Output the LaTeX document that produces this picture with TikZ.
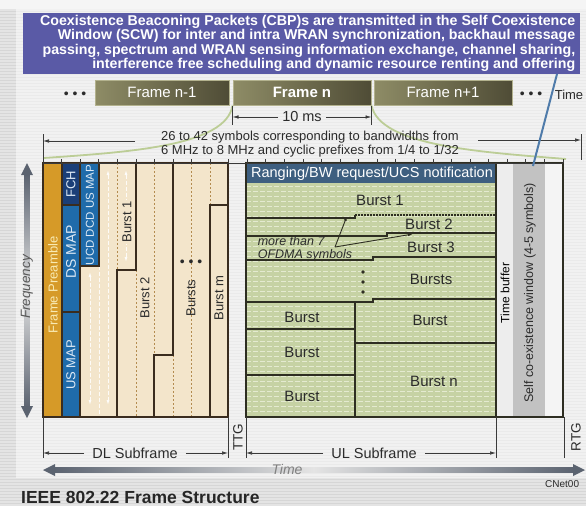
\documentclass[tikz,border=0pt]{standalone}
\usepackage{fontspec}
\setmainfont{Liberation Sans}
\usetikzlibrary{arrows.meta}
\definecolor{bgA}{HTML}{D6D6D6}
\definecolor{panel}{HTML}{EAEAEA}
\definecolor{cbpblue}{HTML}{5A5AA6}
\definecolor{oliveL}{HTML}{8E8C66}
\definecolor{oliveD}{HTML}{4F4C36}
\definecolor{oliveB}{HTML}{B3B28E}
\definecolor{preamble}{HTML}{D69A28}
\definecolor{pretext}{HTML}{F8EAB4}
\definecolor{fchnavy}{HTML}{1B3F78}
\definecolor{mapblue}{HTML}{1F6BAA}
\definecolor{bluetxt}{HTML}{DDE9F5}
\definecolor{beige}{HTML}{F3E5CB}
\definecolor{brownline}{HTML}{3A2C1E}
\definecolor{dashbrown}{HTML}{B38B4F}
\definecolor{dltxt}{HTML}{2B2B2B}
\definecolor{ulgreen}{HTML}{C6D2A4}
\definecolor{ulpale}{HTML}{E4EAD0}
\definecolor{ulhead}{HTML}{3E5F80}
\definecolor{ullinec}{HTML}{2E2E22}
\definecolor{tbuf}{HTML}{EDEDED}
\definecolor{scwgray}{HTML}{C2C2C2}
\definecolor{rwhite}{HTML}{F4F4F4}
\definecolor{arrowdark}{HTML}{5B6370}
\definecolor{arrowlight}{HTML}{E4E4E4}
\definecolor{curvegreen}{HTML}{BCCD96}
\definecolor{callout}{HTML}{4F7BAA}
\definecolor{dimgray}{HTML}{3A3A3A}
\tikzset{
  lbl/.style={inner sep=0pt, text=dltxt, font=\fontsize{14}{16}\selectfont},
  midlbl/.style={inner sep=0pt, text=dltxt, font=\fontsize{13}{14.5}\selectfont},
  dltext/.style={rotate=90, inner sep=0pt, text=dltxt, font=\fontsize{13}{14}\selectfont},
  bluetext/.style={rotate=90, inner sep=0pt, text=bluetxt, font=\fontsize{13}{14}\selectfont},
  ultext/.style={inner sep=0pt, text=dltxt, font=\fontsize{15}{17}\selectfont},
  framebox/.style={minimum height=25pt, inner sep=0pt, left color=oliveL, right color=oliveD, draw=oliveB, line width=1pt, text=white, font=\fontsize{15}{17}\selectfont},
  dimline/.style={draw=dimgray, line width=0.7pt},
  dimarrow/.style={dimline, -{Latex[length=6pt,width=3.5pt]}},
  bline/.style={draw=brownline, line width=1.2pt},
  dline/.style={draw=dashbrown, line width=0.7pt, dash pattern=on 2pt off 2pt},
  wline/.style={draw=white, opacity=0.85, line width=0.8pt, dash pattern=on 4pt off 2pt},
  warrow/.style={wline, {Latex[length=5pt,width=3pt]}-{Latex[length=5pt,width=3pt]}},
  uline/.style={draw=ullinec, line width=1.4pt},
}
\begin{document}
\begin{tikzpicture}[x=1pt,y=-1pt]
\useasboundingbox (0,0) rectangle (586,506);
% background
\fill[bgA] (0,0) rectangle (586,506);
\fill[white!96!black] (0,0) rectangle (586,9);
\fill[panel] (16,9) rectangle (586,478);
\foreach \yy in {10,13,...,505} \draw[white, opacity=0.35, line width=1.2pt] (0,\yy) -- (586,\yy);

% CBP box
\node[fill=cbpblue, minimum width=557pt, minimum height=61pt, inner sep=0pt, anchor=north west] (cbpbox) at (23,13) {};
\node[anchor=east, align=right, inner sep=0pt, text=white, font=\bfseries\fontsize{14.2}{14.4}\selectfont] (cbptext) at ([xshift=-5pt,yshift=0.5pt]cbpbox.east)
 {Coexistence Beaconing Packets (CBP)s are transmitted in the Self Coexistence\\
  Window (SCW) for inter and intra WRAN synchronization, backhaul message\\
  passing, spectrum and WRAN sensing information exchange, channel sharing,\\
  interference free scheduling and dynamic resource renting and offering};

% frames
\node[framebox, minimum width=134pt] (fnm1) at (162,92.5) {Frame n-1};
\node[framebox, minimum width=138pt, font=\bfseries\fontsize{15}{17}\selectfont] (fn) at (302,92.5) {Frame n};
\node[framebox, minimum width=138pt] (fnp1) at (443,92.5) {Frame n+1};
\node[lbl] (ldots) at (75,95) {\textbullet\ \textbullet\ \textbullet};
\node[lbl] (rdots) at (531,95) {\textbullet\ \textbullet\ \textbullet};
\node[lbl, font=\fontsize{13}{15}\selectfont] (toptime) at (569,95) {Time};

% green curves from Frame n
\coordinate (cvL) at (44,158);
\coordinate (cvR) at (566,159);
\draw[curvegreen, line width=1.8pt] (fn.south west) .. controls (226,146) and (130,152) .. (cvL);
\draw[curvegreen, line width=1.8pt] (fn.south east) .. controls (380,146) and (480,152) .. (cvR);

% 10 ms
\node[lbl, font=\fontsize{14.5}{16}\selectfont] (tenms) at (302,117) {10 ms};
\draw[dimline] (fn.south west) -- ++(0,19) coordinate (tmsL);
\draw[dimline] (fn.south east) -- ++(0,19) coordinate (tmsR);
\draw[dimarrow] ([xshift=-4pt]tenms.west) -- (fn.south west |- tenms.west);
\draw[dimarrow] ([xshift=4pt]tenms.east) -- (fn.south east |- tenms.east);

% symbols text
\node[midlbl, align=center] (sym) at (310,144) {26 to 42 symbols corresponding to bandwidths from\\6 MHz to 8 MHz and cyclic prefixes from 1/4 to 1/32};
\coordinate (symLs) at (135,141);
\coordinate (symLe) at (43,141);
\coordinate (symRs) at (478,140);
\coordinate (symRe) at (581,140);
\draw[dimarrow] (symLs) -- (symLe);
\draw[dimarrow] (symRs) -- (symRe);
\draw[dimline] (43,134) -- (43,163);
\draw[dimline] (581,134) -- (581,160);

% ===== DL subframe =====
\fill[beige] (43,163) rectangle (228,417);
\fill[preamble] (43,163) rectangle (62,417);
\fill[fchnavy] (62,163) rectangle (80,205);
\fill[mapblue] (62,205) rectangle (80,417);
\fill[mapblue] (80,163) rectangle (99,266);
% dashed helper lines
\draw[dline] (117,163) -- (117,270);
\draw[dline] (136,270) -- (136,417);
\draw[dline] (154,163) -- (154,355);
\draw[dline] (173,355) -- (173,417);
\draw[dline] (191,163) -- (191,417);
\draw[dline] (210,163) -- (210,205);
\draw[wline] (99,266) -- (99,417);
\draw[warrow] (108,170) -- (108,405);
\draw[warrow] (126,170) -- (126,262);
\draw[warrow] (90,272) -- (90,405);
% solid boundaries
\draw[bline] (62,163) -- (62,417);
\draw[bline] (80,163) -- (80,417);
\draw[bline] (99,163) -- (99,266) -- (80,266);
\draw[bline] (62,205) -- (80,205);
\draw[bline] (62,312) -- (80,312);
\draw[bline] (136,163) -- (136,270) -- (117,270) -- (117,417);
\draw[bline] (173,163) -- (173,355) -- (154,355) -- (154,417);
\draw[bline] (228,205) -- (210,205) -- (210,417);
\draw[bline] (43,163) rectangle (228,417);
% DL texts
\node[dltext, text=pretext] (pre) at (53,285) {Frame Preamble};
\node[bluetext] (fch) at (71,184) {FCH};
\node[bluetext, font=\fontsize{14}{15}\selectfont] (dsmap) at (71,252) {DS MAP};
\node[bluetext] (usmap) at (71,365) {US MAP};
\node[bluetext, font=\fontsize{11.5}{13}\selectfont] (ucd) at (90,215) {UCD DCD US MAP};
\node[dltext, fill=beige, inner sep=1pt] (b1) at (127,222) {Burst 1};
\node[dltext] (b2) at (145,298) {Burst 2};
\node[dltext] (bs) at (191,298) {Bursts};
\node[dltext] (bm) at (219,298) {Burst m};
\node[lbl] (dldots) at (191,263) {\textbullet\ \textbullet\ \textbullet};

% ===== UL subframe =====
\fill[ulgreen] (246,183) rectangle (496,417);
\begin{scope}
\clip (246,183) rectangle (496,417);
\foreach \yy in {186,191,...,416} \draw[ulpale, line width=0.8pt, dash pattern=on 5pt off 2pt] (246,\yy) -- (496,\yy);
\end{scope}
\fill[ulhead] (246,163) rectangle (496,183);
\node[inner sep=0pt, text=white, font=\fontsize{14.5}{16}\selectfont] (rng) at (372,174) {Ranging/BW request/UCS notification};
\draw[uline] (246,218) -| (355,215);
\draw[ullinec, line width=1.2pt, dash pattern=on 2pt off 1pt] (355,215) -- (496,215);
\draw[uline] (246,236) -| (387,233) -- (496,233);
\draw[uline] (246,260) -| (373,257) -- (496,257);
\draw[uline] (246,302) -| (373,299) -- (496,299);
\draw[uline] (355,302) -- (355,417);
\draw[uline] (246,329) -- (355,329);
\draw[uline] (246,375) -- (355,375);
\draw[uline] (355,343) -- (496,343);
\draw[uline] (246,163) rectangle (496,417);
\node[ultext] (u1) at (380,200) {Burst 1};
\node[ultext] (u2) at (429,224) {Burst 2};
\node[ultext] (u3) at (431,247) {Burst 3};
\node[ultext] (us) at (431,279) {Bursts};
\node[ultext] (ul1) at (302,317) {Burst};
\node[ultext] (ul2) at (302,352) {Burst};
\node[ultext] (ul3) at (302,396) {Burst};
\node[ultext] (ur1) at (430,320) {Burst};
\node[ultext] (urn) at (434,381) {Burst n};
\foreach \yy in {272,282,292} \fill[ullinec] (363,\yy) circle (1.8);
\node[inner sep=0pt, align=left, text=dltxt, font=\itshape\fontsize{12.5}{12.5}\selectfont] (more) at (305,249) {more than 7\\OFDMA symbols};
\coordinate (moreA) at (335,247);
\coordinate (moreB) at (347,216);
\coordinate (moreC) at (413,234);
\draw[ullinec, line width=0.9pt, -{Latex[length=5pt,width=3pt]}] (moreA) -- (moreB);
\draw[ullinec, line width=0.9pt, -{Latex[length=5pt,width=3pt]}] (moreA) -- (moreC);

% time buffer / SCW
\fill[tbuf] (496,163) rectangle (513,417);
\fill[scwgray] (513,163) rectangle (545,417);
\fill[rwhite] (545,163) rectangle (563,417);
\draw[uline, line width=1.1pt] (496,163) rectangle (563,417);
\node[dltext, font=\fontsize{12}{13}\selectfont, text=black] (tbuftxt) at (505,293) {Time buffer};
\node[dltext, font=\fontsize{12.5}{13}\selectfont, text=dltxt] (scwtxt) at (530,293) {Self co-existence window (4-5 symbols)};

% top ticks
\draw[dimline] (43,163) -- (563,163);
\foreach \i in {0,...,28} \draw[dimline] ({43+\i*18.57},159) -- ({43+\i*18.57},163);

% callout line
\coordinate (calA) at (557,74);
\coordinate (calB) at (533,166);
\draw[callout, line width=2pt] (calA) -- (calB);

% ===== bottom dimensioning =====
\foreach \xx in {43,228,246,496,564} \draw[dimline] (\xx,417) -- (\xx,458);
\node[lbl, font=\fontsize{14.5}{16}\selectfont] (dlsub) at (135,453) {DL Subframe};
\node[lbl, font=\fontsize{14.5}{16}\selectfont] (ulsub) at (374,453) {UL Subframe};
\coordinate (dlL) at (43,453);
\coordinate (dlR) at (228,453);
\coordinate (ulL) at (246,453);
\coordinate (ulR) at (496,453);
\draw[dimarrow] ([xshift=-8pt]dlsub.west) -- (dlL);
\draw[dimarrow] ([xshift=8pt]dlsub.east) -- (dlR);
\draw[dimarrow] ([xshift=-8pt]ulsub.west) -- (ulL);
\draw[dimarrow] ([xshift=8pt]ulsub.east) -- (ulR);
\node[lbl, rotate=90, font=\fontsize{13.5}{15}\selectfont] (ttg) at (238,437) {TTG};
\node[lbl, rotate=90, font=\fontsize{13.5}{15}\selectfont] (rtg) at (576,437) {RTG};

% time arrow
\shade[left color=arrowdark, right color=arrowdark, middle color=arrowlight] (52,467.5) rectangle (575,472.5);
\fill[arrowdark] (43,470) -- (55,464) -- (55,476) -- cycle;
\fill[arrowdark] (585,470) -- (573,464) -- (573,476) -- cycle;
\node[inner sep=0pt, text=gray, font=\itshape\fontsize{14}{16}\selectfont] (timelbl) at (287,469) {Time};

% frequency arrow
\shade[top color=arrowdark, bottom color=arrowdark, middle color=arrowlight] (24.5,174) rectangle (29.5,408);
\fill[arrowdark] (27,163) -- (21,175) -- (33,175) -- cycle;
\fill[arrowdark] (27,418) -- (21,406) -- (33,406) -- cycle;
\node[inner sep=0pt, rotate=90, text=black!65, font=\itshape\fontsize{13.5}{15}\selectfont] (freq) at (27,287) {Frequency};

% credit and caption
\node[anchor=west, inner sep=0pt, text=dltxt, font=\fontsize{10}{12}\selectfont] (cnet) at (545,484) {CNet00};
\node[anchor=base west, inner sep=0pt, text=black!85, font=\bfseries\fontsize{17.5}{20}\selectfont] (caption) at (21,503) {IEEE 802.22 Frame Structure};
\end{tikzpicture}
\end{document}
